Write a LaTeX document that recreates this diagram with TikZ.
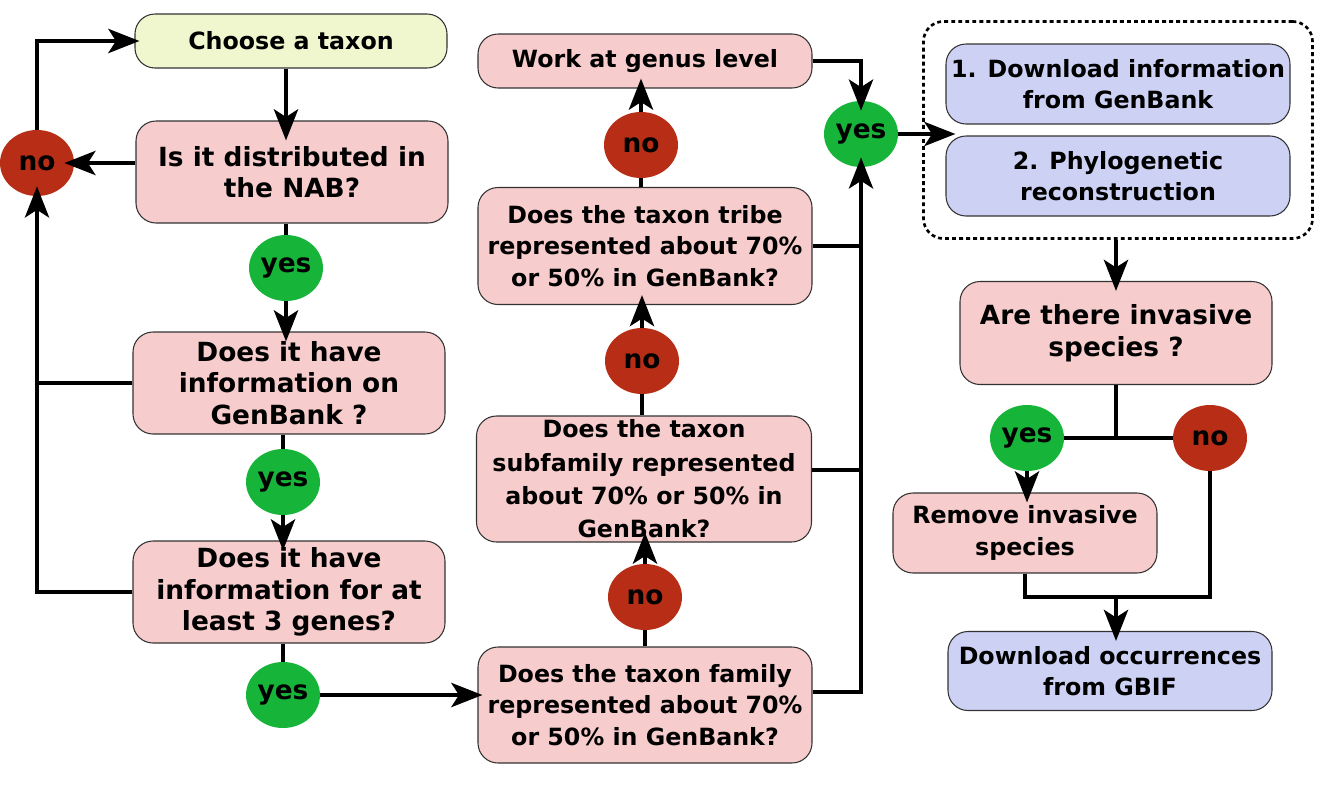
\documentclass[tikz,border=0pt]{standalone}
\usepackage{fontspec}
\setmainfont{DejaVu Sans}
\usetikzlibrary{shapes.geometric,arrows.meta,fit}

\definecolor{boxpink}{RGB}{246,204,204}
\definecolor{boxyellow}{RGB}{240,247,206}
\definecolor{boxblue}{RGB}{205,210,245}
\definecolor{nored}{RGB}{183,45,22}
\definecolor{yesgreen}{RGB}{22,181,58}

\newcommand{\bigtxt}{\bfseries\fontsize{15}{18}\selectfont}
\newcommand{\smalltxt}{\bfseries\fontsize{13.5}{18}\selectfont}

\tikzset{
  box/.style={draw=black!80, line width=0.6pt, rounded corners=4mm,
    align=center, inner sep=0pt, font=\smalltxt},
  qbox/.style={box, fill=boxpink},
  bbox/.style={box, fill=boxblue},
  answer/.style={ellipse, inner sep=0pt, minimum width=14.8mm,
    minimum height=13.2mm, font=\bigtxt},
  yesnode/.style={answer, fill=yesgreen},
  nonode/.style={answer, fill=nored},
  link/.style={line width=0.95mm},
  arr/.style={link, -{Stealth[length=6.2mm,width=4.8mm,inset=1.5mm]},
    shorten >=-2mm}
}

\begin{document}
\begin{tikzpicture}[x=0.2mm,y=-0.2mm]
\useasboundingbox (0,0) rectangle (1319,803);

% left column
\node[box, fill=boxyellow, minimum width=62.4mm, minimum height=10.8mm]
  (choose) at (291,41) {Choose a taxon};
\node[qbox, font=\bigtxt, minimum width=62.4mm, minimum height=20.4mm]
  (nab) at (292,172) {Is it distributed in\\the NAB?};
\node[qbox, font=\bigtxt, minimum width=62.4mm, minimum height=20.4mm]
  (genbank) at (289,383) {Does it have\\information on\\GenBank ?};
\node[qbox, font=\bigtxt, minimum width=62.4mm, minimum height=20.4mm]
  (genes) at (289,592) {Does it have\\information for at\\least 3 genes?};

\node[nonode] (no1) at (37,163) {no};
\node[yesnode] (yes1) at (286,268) {yes};
\node[yesnode] (yes2) at (283,482) {yes};
\node[yesnode] (yes3) at (283,695) {yes};

% middle column
\node[qbox, minimum width=66.8mm, minimum height=10.8mm]
  (genus) at (645,61) {Work at genus level};
\node[qbox, minimum width=66.8mm, minimum height=23.4mm]
  (tribe) at (645,246) {Does the taxon tribe\\represented about 70\%\\or 50\% in GenBank?};
\node[qbox, font=\bfseries\fontsize{13.5}{19}\selectfont,
  minimum width=67mm, minimum height=25.2mm]
  (subfamily) at (644,479) {Does the taxon\\subfamily represented\\about 70\% or 50\% in\\GenBank?};
\node[qbox, minimum width=66.8mm, minimum height=23.2mm]
  (family) at (645,705) {Does the taxon family\\represented about 70\%\\or 50\% in GenBank?};

\node[nonode] (no2) at (641,145) {no};
\node[nonode] (no3) at (642,361) {no};
\node[nonode] (no4) at (645,597) {no};
\node[yesnode] (yesR) at (861,134) {yes};

% right column
\node[bbox, minimum width=68.8mm, minimum height=16mm]
  (dl) at (1118,84) {1. Download information\\from GenBank};
\node[bbox, minimum width=68.8mm, minimum height=16mm]
  (phylo) at (1118,176) {2. Phylogenetic\\reconstruction};
\node[draw, line width=1.5pt, dash pattern=on 2.2pt off 1.8pt,
  rounded corners=4mm, inner sep=4.4mm, fit=(dl)(phylo)] (grp) {};
\node[qbox, font=\bigtxt, minimum width=62.4mm, minimum height=20.6mm]
  (invasive) at (1116,333) {Are there invasive\\species ?};
\node[yesnode] (yes4) at (1027,438) {yes};
\node[nonode] (no5) at (1210,438) {no};
\node[qbox, minimum width=52.8mm, minimum height=16mm]
  (remove) at (1025,533) {Remove invasive\\species};
\node[bbox, minimum width=64.8mm, minimum height=15.8mm]
  (gbif) at (1110,671) {Download occurrences\\from GBIF};
\coordinate (join) at (1116,597);

% connectors, left
\draw[arr, shorten >=-4mm] (choose.south -| yes1) -- (nab.north -| yes1);
\draw[arr] (nab.west |- no1) -- (no1.east);
\draw[arr, shorten >=-1mm] (no1.north) |- (choose.west);
\draw[link] (nab.south -| yes1) -- (yes1.north);
\draw[arr] (yes1.south) -- (yes1.south |- genbank.north);
\draw[link] (genbank.south -| yes2) -- (yes2.north);
\draw[arr] (yes2.south) -- (yes2.south |- genes.north);
\draw[link] (genes.south -| yes3) -- (yes3.north);
\draw[link] (genbank.west) -- (genbank.west -| no1.south);
\draw[arr] (genes.west) -| (no1.south);
\draw[arr, shorten >=-1mm] (yes3.east) -- (yes3.east -| family.west);

% connectors, middle
\draw[link] (family.north -| no4) -- (no4.south);
\draw[arr] (no4.north) -- (no4.north |- subfamily.south);
\draw[link] (subfamily.north -| no3) -- (no3.south);
\draw[arr] (no3.north) -- (no3.north |- tribe.south);
\draw[link] (tribe.north -| no2) -- (no2.south);
\draw[arr] (no2.north) -- (no2.north |- genus.south);
\draw[arr] ([yshift=2.6mm]family.east) -| (yesR.south);
\draw[link] (tribe.east) -- (tribe.east -| yesR);
\draw[link] ([yshift=1.8mm]subfamily.east) -- ([yshift=1.8mm]subfamily.east -| yesR);
\draw[arr] (genus.east) -| (yesR.north);
\draw[arr] (yesR.east) -- (yesR.east -| dl.west);

% connectors, right
\draw[arr] (grp.south -| invasive) -- (invasive.north);
\draw[link] (invasive.south) -- (invasive.south |- yes4);
\draw[link] (yes4.east) -- (no5.west);
\draw[arr] (yes4.south) -- (yes4.south |- remove.north);
\draw[link] (remove.south) |- (join) -| (no5.south);
\draw[arr] (join) -- (join |- gbif.north);

\end{tikzpicture}
\end{document}
